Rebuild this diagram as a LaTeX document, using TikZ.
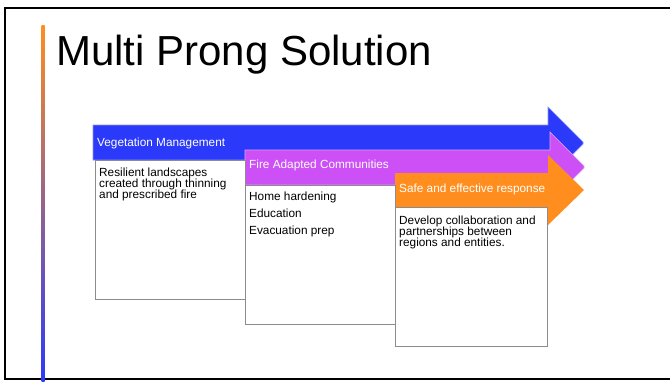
\documentclass[tikz,border=0pt]{standalone}
\usepackage{fontspec}
\setmainfont{Liberation Sans}
\definecolor{vegblue}{RGB}{43,58,250}
\definecolor{fireviolet}{RGB}{204,80,245}
\definecolor{safeorange}{RGB}{255,142,30}
\definecolor{barmid}{RGB}{205,115,185}
\definecolor{boxgrey}{RGB}{140,140,140}
\begin{document}
\begin{tikzpicture}[x=1pt,y=-1pt,
  frameline/.style={line width=2pt,black},
  arrowbody/.style={fill=#1,draw=#1!55!white,line width=0.7pt,line join=miter},
  infobox/.style={draw=boxgrey,line width=1pt,fill=white,inner sep=0pt,outer sep=0pt,anchor=north west,minimum width=#1},
  arrowlabel/.style={anchor=base west,inner sep=0pt,text=white,font=\fontsize{11.8}{12}\selectfont},
  boxtext/.style={anchor=base west,inner sep=0pt,text=black}]
\useasboundingbox (0,0) rectangle (670,381);
\draw[frameline] (670,8) -- (5,8) -- (5,379) -- (670,379);
\shade[top color=safeorange,middle color=barmid,bottom color=vegblue] (41.5,25) rectangle (44.5,381);
\node[anchor=base west,inner sep=0pt,font=\fontsize{42}{48}\selectfont] (title) at (56,65) {Multi Prong Solution};
% arrows
\draw[arrowbody=vegblue] (93,125) -- (548,125) -- (548,107) -- (583,142) -- (583,144) -- (548,179) -- (548,160) -- (93,160) -- cycle;
\draw[arrowbody=fireviolet] (245,150) -- (550,150) -- (550,132) -- (584,166) -- (584,168) -- (550,202) -- (550,185) -- (245,185) -- cycle;
\fill[safeorange] (395,173) -- (548,173) -- (548,155) -- (584,190) -- (548,225) -- (548,207) -- (395,207) -- cycle;
\node[arrowlabel] (lveg) at (97,146) {Vegetation Management};
\node[arrowlabel] (lfire) at (249,168) {Fire Adapted Communities};
\node[arrowlabel] (lsafe) at (399,192) {Safe and effective response};
% boxes
\node[infobox=150pt,minimum height=139pt] (box1) at (95,160) {};
\node[infobox=150pt,minimum height=139pt] (box2) at (245,185) {};
\node[infobox=152pt,minimum height=139pt] (box3) at (395,207) {};
\node[boxtext] (t1) at (99,176) {\parbox[t]{140pt}{\raggedright\fontsize{11.8}{11}\selectfont Resilient landscapes\\created through thinning\\and prescribed fire}};
\node[boxtext] (t2) at (249,200) {\parbox[t]{140pt}{\raggedright\fontsize{11.8}{17}\selectfont Home hardening\\Education\\Evacuation prep}};
\node[boxtext] (t3) at (399,224) {\parbox[t]{145pt}{\raggedright\fontsize{11.8}{11}\selectfont Develop collaboration and\\partnerships between\\regions and entities.}};
\end{tikzpicture}
\end{document}
